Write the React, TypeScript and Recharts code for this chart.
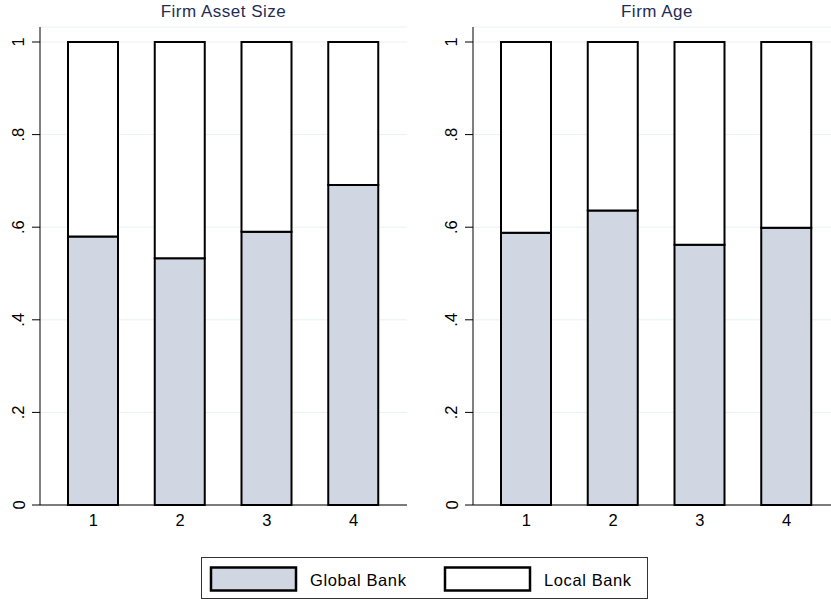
import React from 'react'
import { BarChart, Bar, XAxis, YAxis, CartesianGrid } from 'recharts'

const categories = ['1', '2', '3', '4']
const sizeGlobal = [0.58, 0.533, 0.59, 0.691]
const sizeLocal = [0.42, 0.467, 0.41, 0.309]
const ageGlobal = [0.588, 0.636, 0.562, 0.599]
const ageLocal = [0.412, 0.364, 0.438, 0.401]
const yTicks = [0, 0.2, 0.4, 0.6, 0.8, 1]
const yTickLabels = ['0', '.2', '.4', '.6', '.8', '1']

const FONT = '"Liberation Sans", Arial, Helvetica, sans-serif'
const FILL = '#d1d7e2'
const TITLE = '#1f2d55'

const sizeData = categories.map((c, i) => ({ cat: c, global: sizeGlobal[i], local: sizeLocal[i] }))
const ageData = categories.map((c, i) => ({ cat: c, global: ageGlobal[i], local: ageLocal[i] }))

const YTick = ({ y, payload }: any) => {
  const idx = yTicks.indexOf(payload.value)
  return (
    <text
      x={24.5}
      y={y}
      transform={`rotate(-90, 24.5, ${y})`}
      textAnchor="middle"
      fontSize={16.5}
      fontFamily={FONT}
      fill="#000"
    >
      {idx >= 0 ? yTickLabels[idx] : payload.value}
    </text>
  )
}

const XTick = ({ x, payload }: any) => (
  <text x={x} y={526} textAnchor="middle" fontSize={16.5} fontFamily={FONT} fill="#000">
    {payload.value}
  </text>
)

function Panel({ data }: { data: any[] }) {
  return (
    <BarChart width={415} height={540} data={data} margin={{ top: 27, right: 8, left: 0, bottom: 5 }}>
      <CartesianGrid horizontal vertical={false} stroke="#e9f1f2" strokeWidth={1} />
      <XAxis
        dataKey="cat"
        padding={{ left: 10, right: 10 }}
        axisLine={{ stroke: '#000', strokeWidth: 1 }}
        tickLine={false}
        tick={<XTick />}
        height={30}
        interval={0}
      />
      <YAxis
        type="number"
        domain={[0, 1.0324]}
        ticks={yTicks}
        width={40}
        axisLine={{ stroke: '#000', strokeWidth: 1 }}
        tickLine={{ stroke: '#000', strokeWidth: 1 }}
        tickSize={8}
        tick={<YTick />}
        interval={0}
      />
      <Bar dataKey="global" stackId="a" barSize={50} fill={FILL} stroke="#000" strokeWidth={2} isAnimationActive={false} />
      <Bar dataKey="local" stackId="a" barSize={50} fill="#fff" stroke="#000" strokeWidth={2} isAnimationActive={false} />
    </BarChart>
  )
}

export default function App() {
  return (
    <div
      style={{
        position: 'absolute',
        left: 0,
        top: 0,
        width: 831,
        height: 600,
        overflow: 'hidden',
        background: '#fff',
        fontFamily: FONT,
      }}
    >
      <div style={{ position: 'absolute', left: 0, top: 0 }}>
        <Panel data={sizeData} />
      </div>
      <div style={{ position: 'absolute', left: 433, top: 0 }}>
        <Panel data={ageData} />
      </div>
      <svg width={831} height={600} style={{ position: 'absolute', left: 0, top: 0, pointerEvents: 'none' }}>
        <text x={223.5} y={17} textAnchor="middle" fontSize={17} letterSpacing={0.5} fill={TITLE} fontFamily={FONT}>
          Firm Asset Size
        </text>
        <text x={657} y={17} textAnchor="middle" fontSize={17} letterSpacing={0.5} fill={TITLE} fontFamily={FONT}>
          Firm Age
        </text>
        {/* legend */}
        <rect x={201.5} y={557.5} width={446} height={41} fill="#fff" stroke="#333" strokeWidth={1} />
        <rect x={211} y={567.5} width={85} height={23} fill={FILL} stroke="#000" strokeWidth={2.5} />
        <text x={310} y={586} fontSize={16.5} letterSpacing={0.6} fill="#000" fontFamily={FONT}>
          Global Bank
        </text>
        <rect x={445} y={567.5} width={85} height={23} fill="#fff" stroke="#000" strokeWidth={2.5} />
        <text x={544} y={586} fontSize={16.5} letterSpacing={0.6} fill="#000" fontFamily={FONT}>
          Local Bank
        </text>
      </svg>
    </div>
  )
}
